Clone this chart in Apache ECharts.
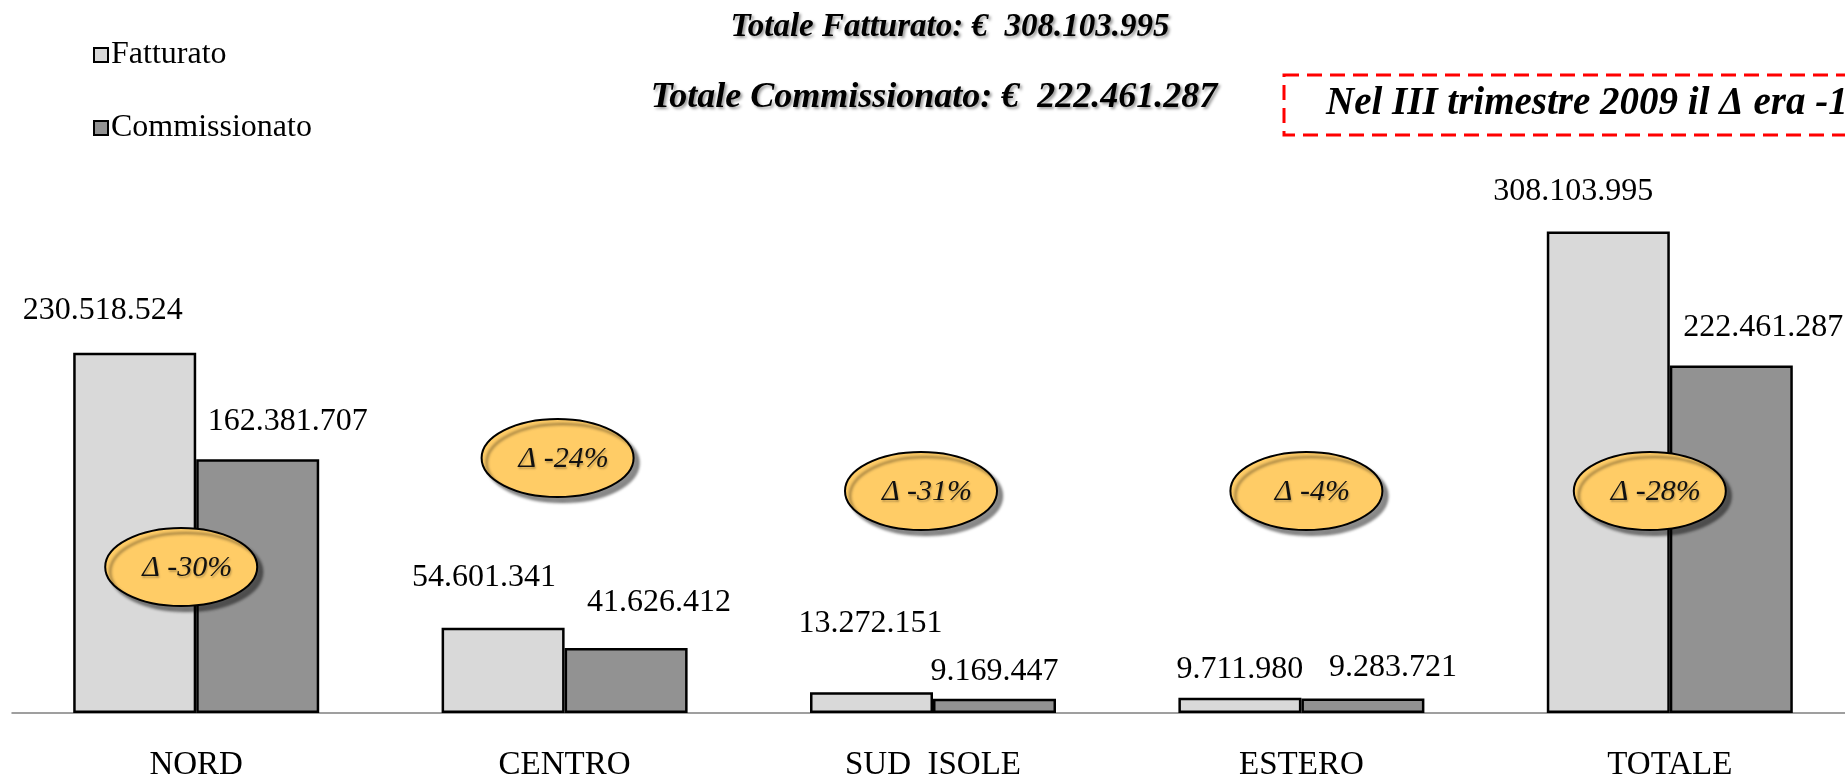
<!DOCTYPE html>
<html>
<head>
<meta charset="utf-8">
<title>Fatturato / Commissionato</title>
<script src="https://cdn.jsdelivr.net/npm/echarts@6/dist/echarts.min.js"></script>
<style>
  html, body { margin: 0; padding: 0; background: #fff; }
  #chart { width: 1845px; height: 775px; }
</style>
</head>
<body>
<div id="chart"></div>
<script>
"use strict";

const CATEGORIES = ["NORD", "CENTRO", "SUD  ISOLE", "ESTERO", "TOTALE"];
const FATTURATO = [230518524, 54601341, 13272151, 9711980, 308103995];
const COMMISSIONATO = [162381707, 41626412, 9169447, 9283721, 222461287];
const DELTA = [-30, -24, -31, -4, -28];
const NOTE = "Nel III trimestre 2009 il Δ era -1";

// label nudges: [dx, gap from bar top to text centre]
const LBL_F = [[-32, 46], [-19, 54], [-1, 73], [0, 32], [-35, 44]];
const LBL_C = [[30, 42], [33, 49], [0, 31], [30, 35], [32, 42]];
// bubble placement: [dx from category centre, y px]
const BUBBLE = [[-15, 567], [-7, 458], [-12, 491], [5, 491], [-20, 491]];

const SERIF = "Liberation Serif";

// 308103995 → "308.103.995"
function fmtIt(v) {
  return String(v).replace(/\B(?=(\d{3})+(?!\d))/g, ".");
}

function withNudge(vals, nudge) {
  return vals.map((v, i) => ({
    value: v,
    label: { offset: [nudge[i][0], -(nudge[i][1] - 20)] },
  }));
}

function barSeries(name, color, vals, nudge) {
  return {
    name, type: "bar", barWidth: 123, barGap: "0%",
    itemStyle: { color, borderColor: "#000", borderWidth: 2.5 },
    label: {
      show: true, position: "top", distance: 0,
      formatter: p => fmtIt(p.value),
      fontFamily: SERIF, fontSize: 32, color: "#000",
    },
    data: withNudge(vals, nudge),
  };
}

const chart = echarts.init(document.getElementById("chart"));
chart.setOption({
  animation: false,
  backgroundColor: "#fff",
  grid: {
    left: 12, top: 88, width: 1842, bottom: 62,
    containLabel: false, outerBoundsMode: "none",
  },
  legend: {
    orient: "vertical", left: 88, top: 34,
    itemWidth: 14, itemHeight: 14, itemGap: 41, icon: "rect",
    itemStyle: { borderColor: "#000", borderWidth: 2 },
    textStyle: { fontFamily: SERIF, fontSize: 32, color: "#000", padding: [0, 0, 0, -2] },
    data: ["Fatturato", "Commissionato"],
  },
  xAxis: {
    type: "category", data: CATEGORIES,
    axisLine: { lineStyle: { color: "#808080", width: 1.5 } },
    axisTick: { length: 10, lineStyle: { color: "#808080", width: 1.5 } },
    axisLabel: { fontFamily: SERIF, fontSize: 33, color: "#000", margin: 36 },
  },
  yAxis: { type: "value", min: 0, max: 400000000, show: false },
  series: [
    barSeries("Fatturato", "#D9D9D9", FATTURATO, LBL_F),
    barSeries("Commissionato", "#929292", COMMISSIONATO, LBL_C),
  ],
});

// ── titles, note box, Δ bubbles ──
const shadowTxt = {
  textShadowColor: "rgba(0,0,0,0.4)", textShadowBlur: 3,
  textShadowOffsetX: 2, textShadowOffsetY: 2,
};

function titleText(x, y, size, text) {
  return {
    type: "text", x, y, z: 20,
    style: Object.assign({
      text, font: "italic bold " + size + "px '" + SERIF + "'", fill: "#000",
      align: "center", verticalAlign: "middle",
      textAlign: "center", textVerticalAlign: "middle",
    }, shadowTxt),
  };
}

const last = FATTURATO.length - 1;
const gfx = [
  titleText(950, 27, 33, "Totale Fatturato: €  " + fmtIt(FATTURATO[last])),
  titleText(934, 98, 36, "Totale Commissionato: €  " + fmtIt(COMMISSIONATO[last])),
  {
    type: "rect", z: 20,
    shape: { x: 1284, y: 75, width: 700, height: 60 },
    style: { fill: "none", stroke: "#FF0000", lineWidth: 3, lineDash: [15, 8] },
  },
  {
    type: "text", x: 1326, y: 104, z: 20,
    style: {
      text: NOTE, font: "italic bold 39px '" + SERIF + "'", fill: "#000",
      align: "left", verticalAlign: "middle",
      textAlign: "left", textVerticalAlign: "middle",
    },
  },
];

CATEGORIES.forEach((c, i) => {
  const cx = chart.convertToPixel({ xAxisIndex: 0 }, c) + BUBBLE[i][0];
  const cy = BUBBLE[i][1];
  gfx.push({
    type: "ellipse", z: 30,
    shape: { cx, cy, rx: 76, ry: 39 },
    style: {
      fill: "#FFCC66", stroke: "#000", lineWidth: 2,
      shadowColor: "rgba(0,0,0,0.45)", shadowBlur: 3,
      shadowOffsetX: 5, shadowOffsetY: 5,
    },
  });
  gfx.push({
    type: "text", x: cx + 6, y: cy + 1, z: 31,
    style: {
      text: "Δ " + DELTA[i] + "%",
      font: "italic 30px '" + SERIF + "'", fill: "#111",
      align: "center", verticalAlign: "middle",
      textAlign: "center", textVerticalAlign: "middle",
      textShadowColor: "rgba(0,0,0,0.25)", textShadowBlur: 2,
      textShadowOffsetX: 1, textShadowOffsetY: 2,
    },
  });
});

chart.setOption({ graphic: gfx });
</script>
</body>
</html>
